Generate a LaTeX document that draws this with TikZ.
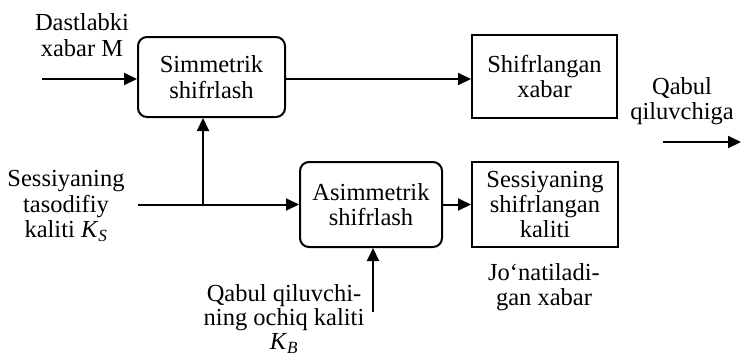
\documentclass[tikz,border=0pt]{standalone}
\usepackage{fontspec}
\setmainfont{Liberation Serif}
\usetikzlibrary{arrows.meta}
\begin{document}
\begin{tikzpicture}[x=1pt,y=-1pt,
  every node/.style={font=\fontsize{24.5}{25.5}\selectfont, align=center, inner sep=0pt},
  block/.style={draw, line width=2pt},
  rblock/.style={block, rounded corners=9pt},
  flow/.style={line width=2pt, -{Triangle[length=13pt,width=12pt]}}]
\useasboundingbox (0,0) rectangle (741,360);

% processing blocks
\node[rblock, minimum width=147pt, minimum height=80pt] (sym) at (211.5,77) {Simmetrik\\shifrlash};
\node[block, minimum width=145pt, minimum height=83pt] (enc) at (544.5,76.5) {Shifrlangan\\xabar};
\node[rblock, minimum width=142pt, minimum height=85pt] (asym) at (371,204.5) {Asimmetrik\\shifrlash};
\node[block, minimum width=146pt, minimum height=85pt] (key) at (545,204.5) {Sessiyaning\\shifrlangan\\kaliti};

% labels
\node (msg) at (82,35) {Dastlabki\\xabar M};
\node (sess) at (66,206) {Sessiyaning\\tasodifiy\\kaliti \textit{K}\textsubscript{\textit{S}}};
\node (recv) at (682,101) {Qabul\\qiluvchiga};
\node[font=\fontsize{24.5}{24}\selectfont] (pub) at (284,319) {Qabul qiluvchi-\\ning ochiq kaliti\\\textit{K}\textsubscript{\textit{B}}};
\node (sent) at (544,287) {Jo‘natiladi-\\gan xabar};

% free ends of connectors
\coordinate (in) at (42,79);
\coordinate (ks) at (138,204.5);
\coordinate (split) at (203,204.5);
\coordinate (kb) at (373,312);
\coordinate (outA) at (663,142);
\coordinate (outB) at (741,142);

% connectors
\draw[flow] (in) -- (in -| sym.west);
\draw[flow] (sym.east |- in) -- (enc.west |- in);
\draw[flow] (ks) -- (asym.west);
\draw[flow] (split) -- (split |- sym.south);
\draw[flow] (asym.east) -- (key.west);
\draw[flow] (kb) -- (kb |- asym.south);
\draw[flow] (outA) -- (outB);
\end{tikzpicture}
\end{document}
